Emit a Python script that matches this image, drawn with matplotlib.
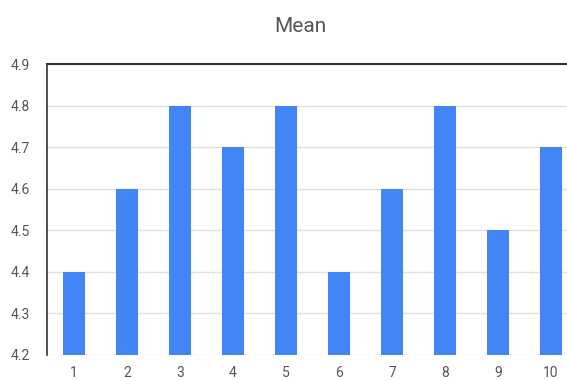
import matplotlib.pyplot as plt

cats = [1, 2, 3, 4, 5, 6, 7, 8, 9, 10]
means = [4.4, 4.6, 4.8, 4.7, 4.8, 4.4, 4.6, 4.8, 4.5, 4.7]
yticks = [4.2, 4.3, 4.4, 4.5, 4.6, 4.7, 4.8, 4.9]

plt.rcParams['font.family'] = ['Roboto', 'DejaVu Sans']

fig = plt.figure(figsize=(5.67, 3.81), dpi=100)
ax = fig.add_axes([47/567, 1 - 355/381, 520/567, 291/381])

ax.bar(cats, means, width=0.4, color='#4285F4', zorder=3)
ax.set_ylim(4.2, 4.9)
ax.set_xlim(0.49, 10.30)
ax.set_yticks(yticks)
ax.set_yticklabels([f'{v:.1f}' for v in yticks])
ax.set_xticks(cats)
ax.set_xticklabels([str(c) for c in cats])
ax.grid(axis='y', color='#e0e0e0', linewidth=1, zorder=0)
ax.tick_params(length=0, labelsize=10, labelcolor='#555555')
ax.tick_params(axis='x', pad=8)
ax.tick_params(axis='y', pad=12)

for s in ['right', 'bottom']:
    ax.spines[s].set_visible(False)
ax.spines['top'].set_color('#333333')
ax.spines['top'].set_linewidth(1.5)
ax.spines['left'].set_color('#333333')
ax.spines['left'].set_linewidth(1.2)

fig.text(300/567, 1 - 27/381, 'Mean', ha='center', va='center', fontsize=15, color='#555555')

fig.savefig('out.png', dpi=100)
